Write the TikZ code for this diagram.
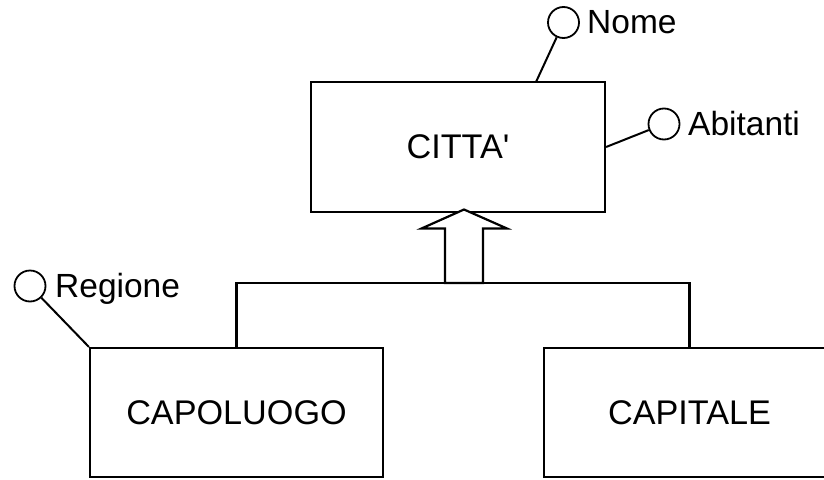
\documentclass[tikz,border=0pt]{standalone}
\usepackage{fontspec}
\setmainfont{Liberation Sans}
\tikzset{
  entity/.style={draw, line width=2.2pt, fill=white, font=\fontsize{34.2}{40}\selectfont, inner sep=0pt},
  attr/.style={draw, circle, line width=1.8pt, minimum size=31pt, inner sep=0pt},
  attrlabel/.style={anchor=base west, inner sep=0pt, font=\fontsize{33.5}{40}\selectfont},
  attrline/.style={line width=2pt},
  link/.style={line width=2.2pt},
}
\begin{document}
\begin{tikzpicture}[x=1pt, y=-1pt]
\useasboundingbox (0,0) rectangle (824,479);
\fill[white] (0,0) rectangle (824,479);
\clip (0,0) rectangle (824,479);

% entities
\node[entity, minimum width=294pt, minimum height=130pt] (citta) at (458,147) {CITTA\textquotesingle};
\node[entity, minimum width=293pt, minimum height=129pt] (capoluogo) at (236.5,412.5) {CAPOLUOGO};
\node[entity, minimum width=291pt, minimum height=129pt] (capitale) at (689.5,412.5) {CAPITALE};

% generalization: joining bar and hollow arrow
\coordinate (bar) at (464,283);
\draw[link] (capoluogo.north) |- (bar) -| (capitale.north);
\coordinate (tip) at (464,209.5);
\draw[line width=2.2pt, fill=white, line join=miter]
  (tip) -- ++(43,19) -- ++(-24,0) -- (483,283) -- (445,283) -- (445,228.5) -- ++(-23.5,0) -- cycle;

% attributes
\node[attr] (nome) at (563.5,22.5) {};
\node[attrlabel] (nomelab) at (587,33) {Nome};
\coordinate (nomefoot) at (536,82);
\draw[attrline] (nomefoot) -- (nome);

\node[attr] (abitanti) at (664,124) {};
\node[attrlabel] (abitantilab) at (688,135) {Abitanti};
\draw[attrline] (citta.east) -- (abitanti);

\node[attr] (regione) at (30,286) {};
\node[attrlabel] (regionelab) at (55,297) {Regione};
\draw[attrline] (capoluogo.north west) -- (regione);
\end{tikzpicture}
\end{document}
